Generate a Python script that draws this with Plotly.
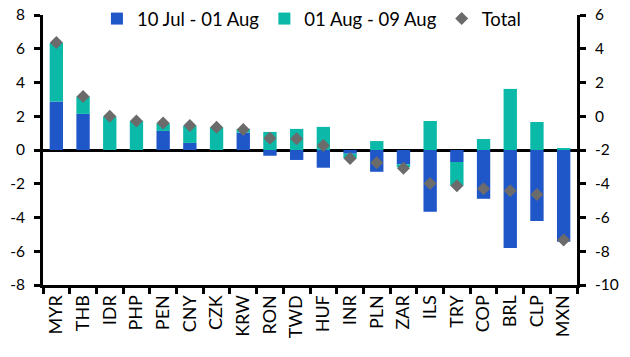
import plotly.graph_objects as go

categories = ["MYR", "THB", "IDR", "PHP", "PEN", "CNY", "CZK", "KRW", "RON", "TWD",
              "HUF", "INR", "PLN", "ZAR", "ILS", "TRY", "COP", "BRL", "CLP", "MXN"]
jul_aug = [2.87, 2.14, 0.0, 0.0, 1.13, 0.42, 0.0, 1.03, -0.34, -0.59,
           -1.05, -0.22, -1.29, -0.84, -3.66, -0.71, -2.89, -5.80, -4.20, -5.44]
aug_aug = [3.47, 1.03, 1.98, 1.72, 0.45, 1.02, 1.35, 0.22, 1.07, 1.25,
           1.37, -0.28, 0.53, -0.18, 1.72, -1.41, 0.65, 3.62, 1.66, 0.12]
total = [6.37, 3.17, 2.0, 1.72, 1.6, 1.45, 1.35, 1.22, 0.69, 0.67,
         0.26, -0.5, -0.75, -1.08, -1.98, -2.12, -2.29, -2.41, -2.63, -5.34]
left_ticks = [8, 6, 4, 2, 0, -2, -4, -6, -8]
left_labels = ["8", "6", "4", "2", "0", "-2", "-4", "-6", "-8"]
right_ticks = [6, 4, 2, 0, -2, -4, -6, -8, -10]
right_labels = ["6", "4", "2", "0", "-2", "-4", "-6", "-8", "-10"]

BLUE = "#1f56c8"
TEAL = "#0bb9a9"
GREY = "#6b6b6b"
FONT = "Lato"

fig = go.Figure()
fig.add_trace(go.Bar(x=categories, y=jul_aug, name="10 Jul - 01 Aug",
                     marker=dict(color=BLUE, line=dict(width=0))))
fig.add_trace(go.Bar(x=categories, y=aug_aug, name="01 Aug - 09 Aug",
                     marker=dict(color=TEAL, line=dict(width=0))))
fig.add_trace(go.Scatter(x=categories, y=total, name="Total", mode="markers",
                         marker=dict(symbol="diamond", color=GREY, size=10,
                                     line=dict(width=0))))
fig.add_trace(go.Scatter(x=categories, y=[None] * len(categories), yaxis="y2",
                         showlegend=False, hoverinfo="skip", mode="markers"))

fig.update_layout(
    width=630, height=357,
    barmode="relative", bargap=0.5,
    plot_bgcolor="white", paper_bgcolor="white",
    margin=dict(l=35, r=61, t=7, b=80, autoexpand=False),
    font=dict(family=FONT, size=15.5, color="black"),
    legend=dict(orientation="h", x=0.101, y=0.985, xanchor="left", yanchor="middle",
                font=dict(size=18.5), bgcolor="rgba(0,0,0,0)",
                tracegroupgap=0),
    xaxis=dict(type="category", range=[-0.5, 19.5], showline=True, linecolor="black",
               linewidth=3, ticks="outside", tickson="boundaries", ticklen=6,
               tickwidth=2.5, tickcolor="black", tickangle=-90, showgrid=False,
               zeroline=False, automargin=False, tickfont=dict(size=18)),
    yaxis=dict(range=[-8, 8], tickvals=left_ticks, ticktext=left_labels,
               showline=True, linecolor="black",
               linewidth=3, ticks="outside", ticklen=6, tickwidth=2.5, tickcolor="black",
               showgrid=False, zeroline=True, zerolinecolor="black", zerolinewidth=3,
               automargin=False, ticklabelstandoff=6, ticklabeloverflow="allow"),
    yaxis2=dict(range=[-10, 6], tickvals=right_ticks, ticktext=right_labels,
                overlaying="y", side="right",
                showline=True, linecolor="black", linewidth=3, ticks="outside",
                ticklen=6, tickwidth=2.5, tickcolor="black", showgrid=False,
                zeroline=False, automargin=False, ticklabelstandoff=6,
                ticklabeloverflow="allow"),
)

fig.write_html("out.html")
